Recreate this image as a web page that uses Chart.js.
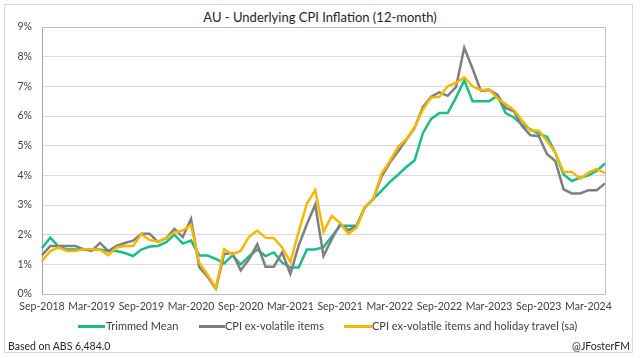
<!DOCTYPE html>
<html>
<head>
<meta charset="utf-8">
<script src="https://cdn.jsdelivr.net/npm/chart.js@4.4.1/dist/chart.umd.min.js"></script>
<style>
  body{margin:0;width:640px;height:358px;position:relative;background:#fff;overflow:hidden;font-family:Lato,"Open Sans",sans-serif;}
  #frame{position:absolute;left:4px;top:4px;width:627px;height:347px;border:1px solid #d9d9d9;}
  #title{position:absolute;left:0;top:9px;width:640px;text-align:center;font-size:13px;color:#262626;}
  canvas{position:absolute;left:0;top:0;}
  .lg{position:absolute;top:319px;font-size:11px;color:#404040;white-space:nowrap;line-height:14px;}
  .sw{position:absolute;top:325px;height:3px;}
  .ft{position:absolute;top:339px;font-size:10.5px;color:#262626;white-space:nowrap;line-height:14px;}
</style>
</head>
<body>
<div id="frame"></div>
<div id="title">AU - Underlying CPI Inflation (12-month)</div>
<canvas id="c" width="640" height="358"></canvas>
<div class="sw" style="left:78px;width:27px;background:#1ABC8C"></div>
<div class="lg" style="left:106px">Trimmed Mean</div>
<div class="sw" style="left:199px;width:26px;background:#7F7F7F"></div>
<div class="lg" style="left:225px">CPI ex-volatile items</div>
<div class="sw" style="left:344px;width:28px;background:#F4B800"></div>
<div class="lg" style="left:372px">CPI ex-volatile items and holiday travel (sa)</div>
<div class="ft" style="left:8px">Based on ABS 6,484.0</div>
<div class="ft" style="right:10px">@JFosterFM</div>
<script>
const months = ["Sep-2018","Oct-2018","Nov-2018","Dec-2018","Jan-2019","Feb-2019","Mar-2019","Apr-2019","May-2019","Jun-2019","Jul-2019","Aug-2019",
"Sep-2019","Oct-2019","Nov-2019","Dec-2019","Jan-2020","Feb-2020","Mar-2020","Apr-2020","May-2020","Jun-2020","Jul-2020","Aug-2020",
"Sep-2020","Oct-2020","Nov-2020","Dec-2020","Jan-2021","Feb-2021","Mar-2021","Apr-2021","May-2021","Jun-2021","Jul-2021","Aug-2021",
"Sep-2021","Oct-2021","Nov-2021","Dec-2021","Jan-2022","Feb-2022","Mar-2022","Apr-2022","May-2022","Jun-2022","Jul-2022","Aug-2022",
"Sep-2022","Oct-2022","Nov-2022","Dec-2022","Jan-2023","Feb-2023","Mar-2023","Apr-2023","May-2023","Jun-2023","Jul-2023","Aug-2023",
"Sep-2023","Oct-2023","Nov-2023","Dec-2023","Jan-2024","Feb-2024","Mar-2024","Apr-2024","May-2024"];

const trimmedMean = [1.55,1.9,1.6,1.5,1.5,1.5,1.5,1.5,1.45,1.45,1.38,1.28,
1.5,1.6,1.62,1.75,2.0,1.7,1.8,1.3,1.3,1.18,1.03,1.3,
1.0,1.27,1.5,1.28,1.4,1.06,0.89,0.89,1.5,1.5,1.58,1.94,
2.3,2.3,2.3,2.93,3.2,3.48,3.77,4.02,4.28,4.5,5.42,5.9,
6.1,6.1,6.62,7.2,6.5,6.5,6.5,6.68,6.1,5.95,5.7,5.55,
5.4,5.3,4.76,4.03,3.81,3.92,4.0,4.15,4.4];

const exVolatile = [1.31,1.62,1.62,1.62,1.62,1.51,1.45,1.72,1.45,1.62,1.72,1.8,
2.03,2.03,1.76,1.88,2.2,1.92,2.53,0.9,0.58,0.18,1.35,1.38,
0.8,1.17,1.68,0.92,0.92,1.4,0.68,1.63,2.36,3.01,1.28,1.85,
2.35,2.15,2.3,2.92,3.2,3.95,4.42,4.8,5.2,5.6,6.3,6.65,
6.8,6.68,6.97,8.3,7.6,6.85,6.88,6.72,6.27,6.16,5.65,5.35,
5.32,4.71,4.48,3.53,3.39,3.39,3.5,3.5,3.73];

const exVolatileHoliday = [1.11,1.45,1.57,1.45,1.45,1.51,1.51,1.49,1.31,1.57,1.62,1.62,
2.02,1.82,1.77,1.88,2.08,2.14,2.33,1.05,0.65,0.2,1.51,1.34,
1.45,1.93,2.14,1.9,1.88,1.57,1.08,2.1,3.05,3.5,2.1,2.63,
2.4,2.02,2.24,2.93,3.18,4.05,4.48,4.95,5.22,5.62,6.22,6.62,
6.65,7.0,7.12,7.3,7.0,6.87,6.9,6.6,6.4,6.2,5.85,5.5,
5.5,5.16,4.76,4.11,4.11,3.89,4.09,4.22,4.07];

const yTicks = [0,1,2,3,4,5,6,7,8,9];

const borderPlugin = {
  id:'plotBorder',
  afterDraw(chart){
    const {ctx, chartArea:a} = chart;
    ctx.save();
    ctx.strokeStyle = '#bfbfbf';
    ctx.lineWidth = 1;
    ctx.beginPath();
    ctx.moveTo(Math.round(a.left)+0.5, Math.round(a.top)+0.5);
    ctx.lineTo(Math.round(a.right)+0.5, Math.round(a.top)+0.5);
    ctx.lineTo(Math.round(a.right)+0.5, Math.round(a.bottom)+0.5);
    ctx.stroke();
    ctx.restore();
  }
};

new Chart(document.getElementById('c'), {
  type:'line',
  data:{
    labels: months,
    datasets:[
      {label:'Trimmed Mean', data:trimmedMean, borderColor:'#1ABC8C', borderWidth:2.5, pointRadius:0, order:3},
      {label:'CPI ex-volatile items', data:exVolatile, borderColor:'#7F7F7F', borderWidth:2.5, pointRadius:0, order:2},
      {label:'CPI ex-volatile items and holiday travel (sa)', data:exVolatileHoliday, borderColor:'#F4B800', borderWidth:2.5, pointRadius:0, order:1}
    ]
  },
  options:{
    responsive:false,
    animation:false,
    devicePixelRatio:1,
    layout:{padding:{left:0, top:27, right:35, bottom:0}},
    plugins:{legend:{display:false}, tooltip:{enabled:false}, title:{display:false}},
    scales:{
      x:{
        type:'category',
        grid:{display:false, drawTicks:false},
        border:{color:'#bfbfbf', width:1},
        ticks:{autoSkip:false, maxRotation:0, minRotation:0, padding:6, color:'#404040',
               font:{family:'Lato', size:10.5},
               callback:(v,i)=> i%6===0 ? months[i] : null},
        afterFit:(s)=>{ s.height = 64; }
      },
      y:{
        min:0, max:9,
        afterBuildTicks:(s)=>{ s.ticks = yTicks.map(v=>({value:v})); },
        grid:{color:'#d9d9d9', drawTicks:false},
        border:{color:'#a6a6a6', width:1},
        ticks:{padding:10, color:'#404040', font:{family:'Lato', size:10.5},
               callback:(v)=> v + '%'},
        afterFit:(s)=>{ s.width = 42; }
      }
    }
  },
  plugins:[borderPlugin]
});
</script>
</body>
</html>
